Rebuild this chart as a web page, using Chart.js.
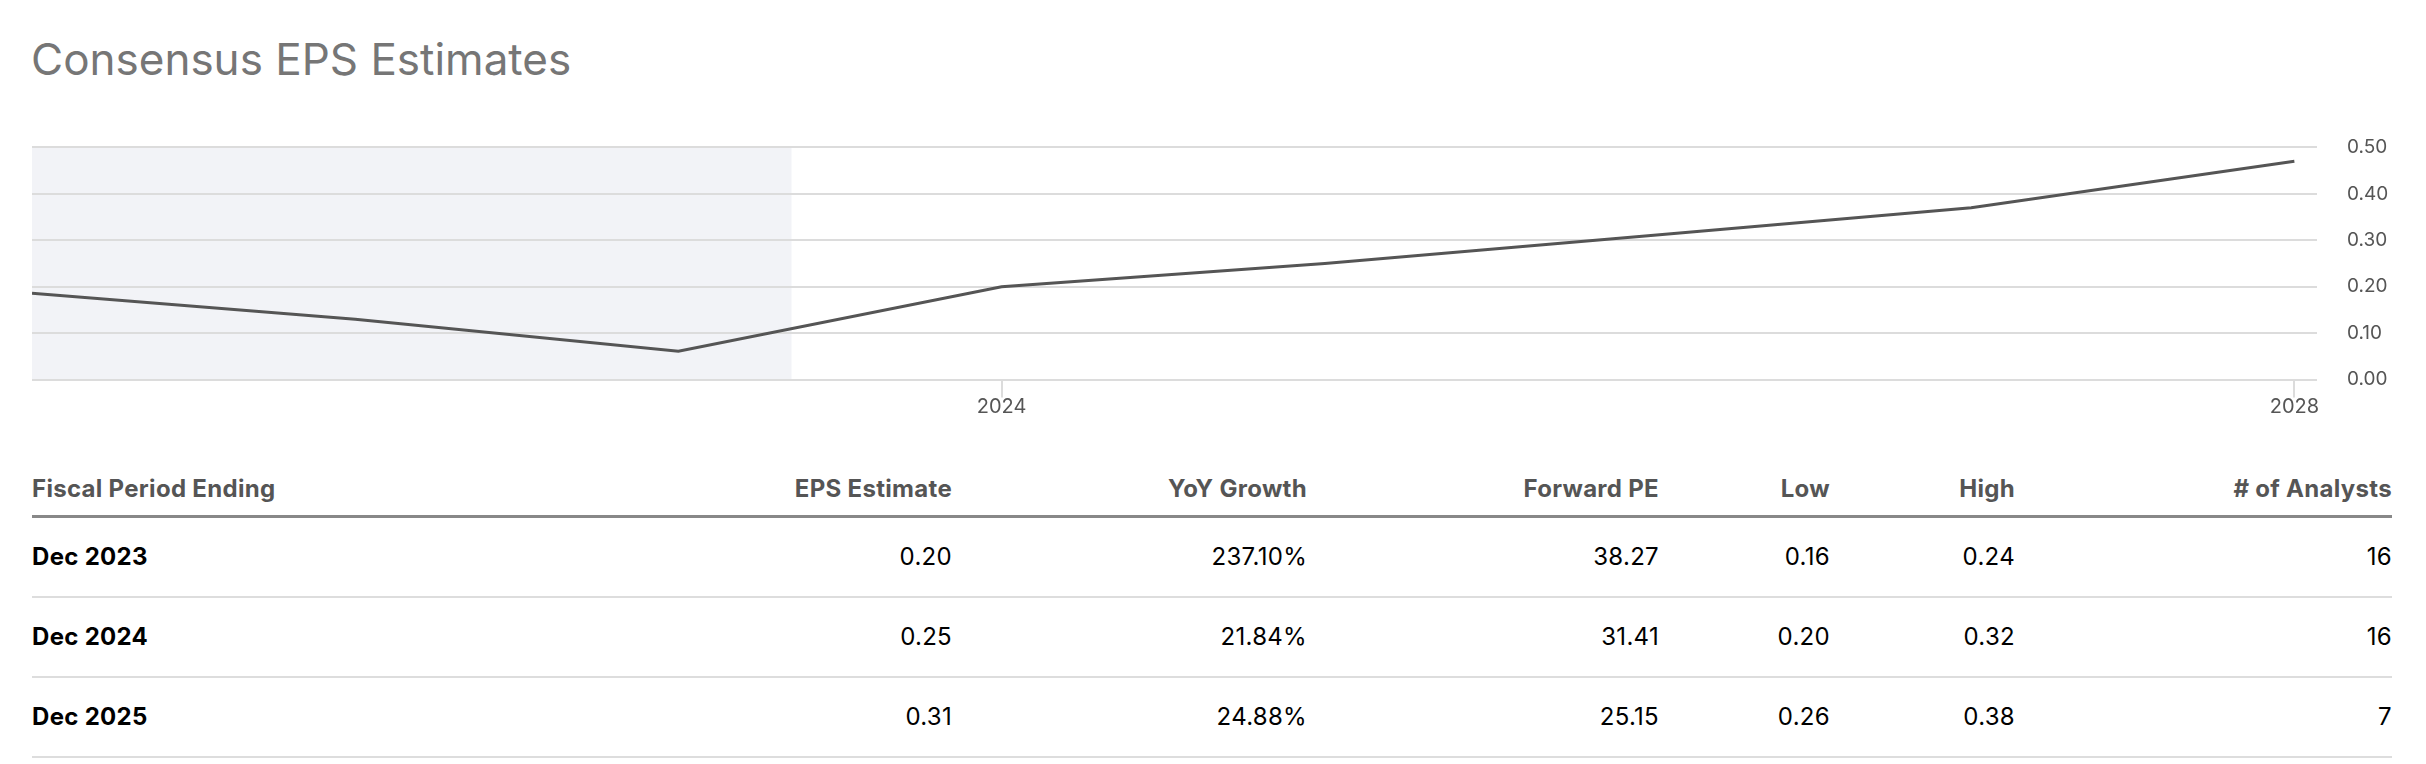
<!DOCTYPE html>
<html>
<head>
<meta charset="utf-8">
<script src="https://cdn.jsdelivr.net/npm/chart.js@4.4.0/dist/chart.umd.min.js"></script>
<style>
  body { margin: 0; background: #fff; font-family: Inter, "Noto Sans", sans-serif; }
  #title { position: absolute; left: 31px; top: 37px; margin: 0; font-size: 44px; line-height: 44px; font-weight: 400; color: #767676; }
  #chartBox { position: absolute; left: 32px; top: 106px; width: 2362px; height: 315px; }
  #estTable { position: absolute; left: 32px; top: 463px; width: 2360px; border-collapse: separate; border-spacing: 0; table-layout: fixed; font-size: 24px; letter-spacing: 0.3px; }
  #estTable th { padding: 0; line-height: 52px; font-weight: 700; color: #555; border-bottom: 3px solid #888; text-align: right; white-space: nowrap; }
  #estTable td { padding: 0; line-height: 78px; color: #000; border-bottom: 2px solid #ddd; text-align: right; }
  #estTable th:first-child, #estTable td:first-child { text-align: left; }
  #estTable td:first-child { font-weight: 700; }
</style>
</head>
<body>
<h1 id="title">Consensus EPS Estimates</h1>
<div id="chartBox"><canvas id="epsChart"></canvas></div>
<table id="estTable">
  <colgroup>
    <col style="width:568px"><col style="width:352px"><col style="width:355px"><col style="width:352px"><col style="width:171px"><col style="width:185px"><col style="width:377px">
  </colgroup>
  <thead><tr id="headRow"></tr></thead>
  <tbody id="tableBody"></tbody>
</table>
<script>
// datos de la grafica (fin de cada ejercicio fiscal, en años)
var periodEnd = [2021, 2022, 2023, 2024, 2025, 2026, 2027, 2028];
var epsValues = [0.186, 0.13, 0.061, 0.20, 0.25, 0.31, 0.37, 0.47];
var xTicks = [2024, 2028];
var yTicks = [0, 0.1, 0.2, 0.3, 0.4, 0.5];
var todayX = 2023.35; // zona sombreada = historico

// datos de la tabla
var headers = ['Fiscal Period Ending', 'EPS Estimate', 'YoY Growth', 'Forward PE', 'Low', 'High', '# of Analysts'];
var periods = ['Dec 2023', 'Dec 2024', 'Dec 2025'];
var epsEstimate = ['0.20', '0.25', '0.31'];
var yoyGrowth = ['237.10%', '21.84%', '24.88%'];
var forwardPE = ['38.27', '31.41', '25.15'];
var lowEst = ['0.16', '0.20', '0.26'];
var highEst = ['0.24', '0.32', '0.38'];
var analysts = ['16', '16', '7'];

// tabla
var headRow = document.getElementById('headRow');
headers.forEach(function (h) {
    var th = document.createElement('th');
    th.textContent = h;
    headRow.appendChild(th);
});
var body = document.getElementById('tableBody');
periods.forEach(function (p, i) {
    var tr = document.createElement('tr');
    [p, epsEstimate[i], yoyGrowth[i], forwardPE[i], lowEst[i], highEst[i], analysts[i]].forEach(function (v) {
        var td = document.createElement('td');
        td.textContent = v;
        tr.appendChild(td);
    });
    body.appendChild(tr);
});

// sombreado del periodo pasado
var shadePlugin = {
    id: 'shade',
    beforeDraw: function (chart) {
        var area = chart.chartArea;
        var x = chart.scales.x.getPixelForValue(todayX);
        var ctx = chart.ctx;
        ctx.save();
        ctx.fillStyle = '#f2f3f7';
        ctx.fillRect(area.left, area.top, x - area.left, area.bottom - area.top);
        ctx.restore();
    }
};

var ctx = document.getElementById('epsChart').getContext('2d');
var epsChart = new Chart(ctx, {
    type: 'line',
    data: {
        datasets: [{
            data: periodEnd.map(function (x, i) { return { x: x, y: epsValues[i] }; }),
            borderColor: '#555555',
            borderWidth: 3,
            pointRadius: 0,
            tension: 0,
            fill: false
        }]
    },
    options: {
        responsive: true,
        maintainAspectRatio: false,
        animation: false,
        layout: { padding: { top: 27, right: 0, left: 0, bottom: 0 } },
        plugins: { legend: { display: false }, tooltip: { enabled: false } },
        scales: {
            x: {
                type: 'linear',
                min: 2021,
                max: 2028.07,
                afterBuildTicks: function (axis) {
                    axis.ticks = xTicks.map(function (v) { return { value: v }; });
                },
                ticks: {
                    autoSkip: false,
                    maxRotation: 0,
                    padding: -3,
                    color: '#555',
                    font: { family: 'Inter', size: 20 },
                    callback: function (v) { return String(v); }
                },
                grid: { drawOnChartArea: false, drawTicks: true, tickLength: 18, color: '#dcdcdc', lineWidth: 2 },
                border: { display: false }
            },
            y: {
                position: 'right',
                min: 0,
                max: 0.5,
                afterBuildTicks: function (axis) {
                    axis.ticks = yTicks.map(function (v) { return { value: v }; });
                },
                afterFit: function (axis) { axis.width = 77; },
                ticks: {
                    padding: 30,
                    color: '#555',
                    font: { family: 'Inter', size: 19 },
                    callback: function (v) { return v.toFixed(2); }
                },
                grid: { drawTicks: false, color: '#dcdcdc', lineWidth: 2 },
                border: { display: false }
            }
        }
    },
    plugins: [shadePlugin]
});
</script>
</body>
</html>
